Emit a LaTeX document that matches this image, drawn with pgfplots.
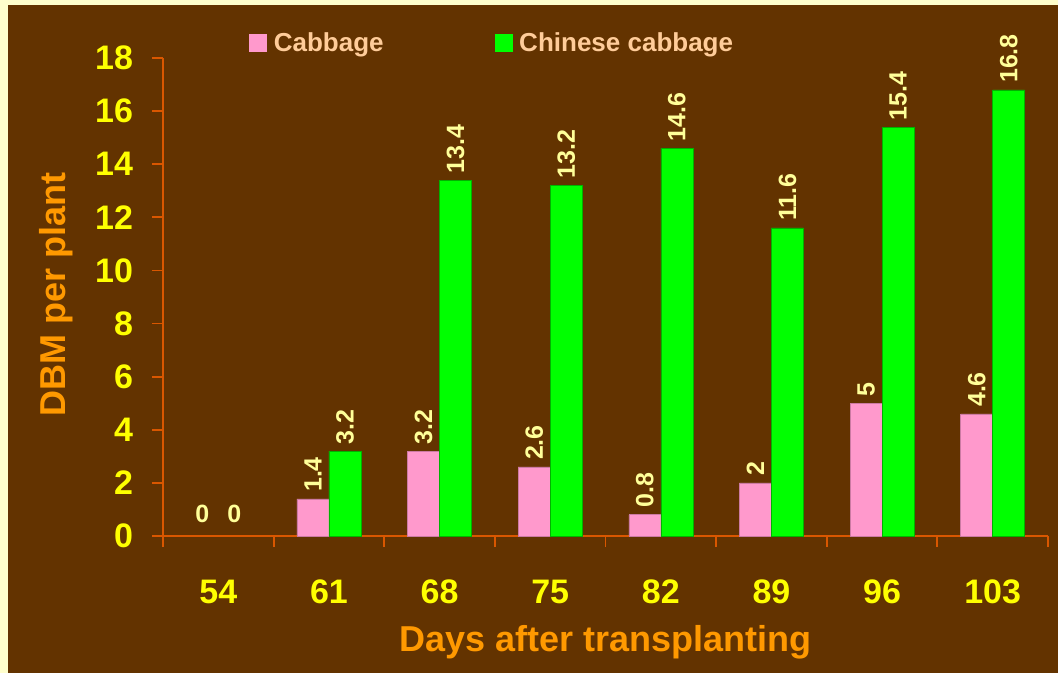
\documentclass[border=0pt]{standalone}
\usepackage{pgfplots}
\pgfplotsset{compat=1.18}
\usepackage{pgfplotstable}
\usepackage{fontspec}
\setmainfont{Liberation Sans}
\definecolor{bg}{HTML}{633300}
\definecolor{pale}{HTML}{FFFFCC}
\definecolor{axisorange}{HTML}{D95700}
\definecolor{ticky}{HTML}{FFFF00}
\definecolor{titleorange}{HTML}{FF9900}
\definecolor{valcol}{HTML}{FFFF99}
\definecolor{legtext}{HTML}{FFCC99}
\definecolor{pinkbar}{HTML}{FF99CC}
\definecolor{greenbar}{HTML}{00FF00}

% bars (category index, value); category 54 (index 0) has 0 for both series
\pgfplotstableread{
x cab chi
1 1.4 3.2
2 3.2 13.4
3 2.6 13.2
4 0.8 14.6
5 2 11.6
6 5 15.4
7 4.6 16.8
}\data
\pgfplotstableread{
x cab chi
0 0 0
}\zerodata

\pgfplotsset{vallabels/.style={
  nodes near coords,
  nodes near coords style={xshift=#1, rotate=90, anchor=west,
    font=\bfseries\fontsize{12.5}{15}\selectfont, text=valcol},
}}

\begin{document}
\begin{tikzpicture}
\path[use as bounding box] (0,0) rectangle (529pt,336.5pt);
\fill[pale] (0,0) rectangle (529pt,336.5pt);
\fill[bg] (4pt,0) rectangle (529pt,334pt);
\begin{axis}[
  at={(81.5pt,68.5pt)}, anchor=south west,
  scale only axis, width=442.5pt, height=239pt,
  xmin=-0.5, xmax=7.5, ymin=0, ymax=18,
  clip=false,
  axis x line*=bottom, axis y line*=left,
  axis line style={axisorange, line width=0.9pt, -},
  tick style={axisorange, line width=0.9pt},
  tick align=outside, major tick length=5.5pt,
  xtick={-0.5,0.5,...,7.5}, x tick label as interval,
  xticklabels={54,61,68,75,82,89,96,103},
  ytick={0,2,...,18},
  /pgf/number format/assume math mode=true,
  ticklabel style={font=\bfseries\fontsize{17}{20}\selectfont, text=ticky},
  xticklabel style={yshift=-13pt},
  yticklabel style={xshift=-6pt},
  xlabel={Days after transplanting},
  ylabel={DBM per plant},
  label style={font=\bfseries\fontsize{18}{21}\selectfont, text=titleorange},
  xlabel style={at={(axis description cs:0.5,0)}, anchor=center, yshift=-53pt},
  ylabel style={at={(axis description cs:0,0.506)}, anchor=center, yshift=53.5pt},
  legend style={at={(0.097,1.031)}, anchor=west, draw=none, fill=none,
    legend columns=2, font=\bfseries\fontsize{13}{15}\selectfont, text=legtext,
    /tikz/every even column/.append style={column sep=52pt}, inner sep=0pt,
    nodes={inner xsep=3.5pt}},
  legend cell align=left,
]
\addplot[ybar, bar width=16pt, bar shift=-8pt,
  fill=pinkbar, draw=pinkbar!80!black, line width=0.3pt, vallabels=-8pt,
  legend image code/.code={\fill[pinkbar] (0pt,-4.25pt) rectangle (8.5pt,4.25pt);}]
  table[x=x, y=cab] {\data};
\addplot[ybar, bar width=16pt, bar shift=8pt,
  fill=greenbar, draw=greenbar!70!black, line width=0.3pt, vallabels=8pt,
  legend image code/.code={\fill[greenbar] (0pt,-4.25pt) rectangle (8.5pt,4.25pt);}]
  table[x=x, y=chi] {\data};
\legend{Cabbage, Chinese cabbage}
\addplot[draw=none, mark=none, forget plot, nodes near coords,
  nodes near coords style={font=\bfseries\fontsize{12.5}{15}\selectfont, text=valcol, anchor=south, xshift=-8pt, yshift=3pt}]
  table[x=x, y=cab] {\zerodata};
\addplot[draw=none, mark=none, forget plot, nodes near coords,
  nodes near coords style={font=\bfseries\fontsize{12.5}{15}\selectfont, text=valcol, anchor=south, xshift=8pt, yshift=3pt}]
  table[x=x, y=chi] {\zerodata};
\end{axis}
\end{tikzpicture}
\end{document}
